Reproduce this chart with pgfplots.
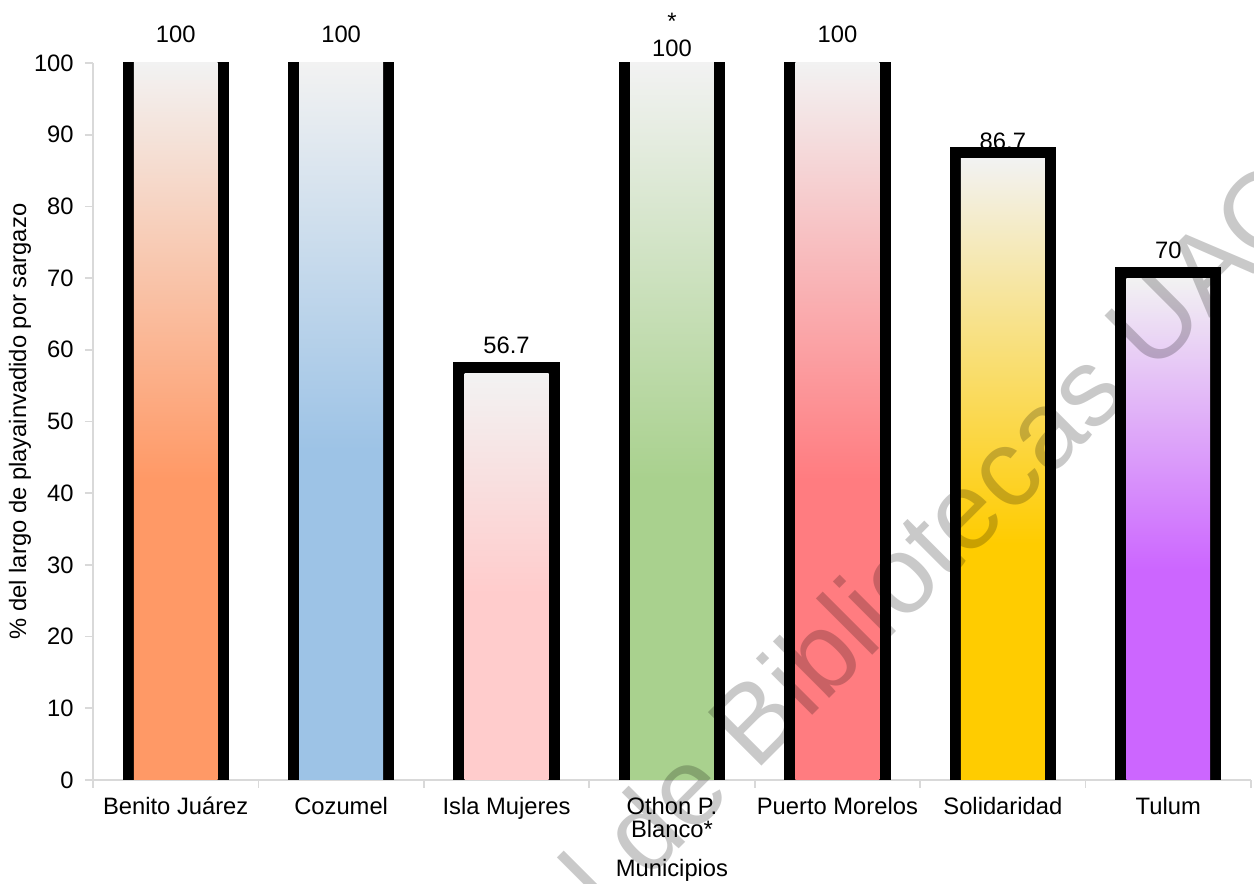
\documentclass[border=0pt]{standalone}
\usepackage{fontspec}
\setmainfont{Liberation Sans}
\usepackage{pgfplots}
\pgfplotsset{compat=1.18}

\definecolor{cBJ}{HTML}{FF9966}
\definecolor{cCZ}{HTML}{9DC3E6}
\definecolor{cIM}{HTML}{FFCCCC}
\definecolor{cOP}{HTML}{A9D18E}
\definecolor{cPM}{HTML}{FF7C80}
\definecolor{cSO}{HTML}{FFCC00}
\definecolor{cTU}{HTML}{CC66FF}
\definecolor{ctop}{HTML}{F2F2F2}
\definecolor{axgray}{HTML}{D9D9D9}

\pgfdeclareverticalshading{shBJ}{100bp}{color(0bp)=(cBJ); color(25bp)=(cBJ); color(46bp)=(cBJ); color(75bp)=(ctop); color(100bp)=(ctop)}
\pgfdeclareverticalshading{shCZ}{100bp}{color(0bp)=(cCZ); color(25bp)=(cCZ); color(48bp)=(cCZ); color(75bp)=(ctop); color(100bp)=(ctop)}
\pgfdeclareverticalshading{shIM}{100bp}{color(0bp)=(cIM); color(25bp)=(cIM); color(48bp)=(cIM); color(75bp)=(ctop); color(100bp)=(ctop)}
\pgfdeclareverticalshading{shOP}{100bp}{color(0bp)=(cOP); color(25bp)=(cOP); color(46bp)=(cOP); color(75bp)=(ctop); color(100bp)=(ctop)}
\pgfdeclareverticalshading{shPM}{100bp}{color(0bp)=(cPM); color(25bp)=(cPM); color(46bp)=(cPM); color(75bp)=(ctop); color(100bp)=(ctop)}
\pgfdeclareverticalshading{shSO}{100bp}{color(0bp)=(cSO); color(25bp)=(cSO); color(44bp)=(cSO); color(75bp)=(ctop); color(100bp)=(ctop)}
\pgfdeclareverticalshading{shTU}{100bp}{color(0bp)=(cTU); color(25bp)=(cTU); color(46bp)=(cTU); color(75bp)=(ctop); color(100bp)=(ctop)}

\pgfplotsset{
  mybar/.style={ybar, bar width=0.507, bar shift=0pt, draw=none, shade, shading=#1,
    preaction={draw=black, line width=9pt}},
  mylab/.style={draw=none, mark=none, nodes near coords,
    every node near coord/.append style={anchor=south, inner sep=0pt, yshift=#1, text=black,
      font=\fontsize{9.5}{10.8}\selectfont, align=center}},
}

\begin{document}
\begin{tikzpicture}
\begin{axis}[
  scale only axis, width=463.2pt, height=286.8pt,
  xmin=-0.5, xmax=6.5, ymin=0, ymax=100,
  axis x line*=bottom, axis y line*=left,
  axis line style={draw=axgray, line width=0.7pt},
  tick align=outside, major tick length=3.2pt,
  tick style={draw=axgray, line width=0.7pt},
  xtick={-0.5,0.5,1.5,2.5,3.5,4.5,5.5,6.5}, xticklabels={},
  extra x ticks={0,1,2,3,4,5,6},
  extra x tick labels={{Benito Juárez},{Cozumel},{Isla Mujeres},{Othon P.\\Blanco*},{Puerto Morelos},{Solidaridad},{Tulum}},
  extra x tick style={major tick length=0pt, xticklabel style={yshift=-3.2pt}},
  xticklabel style={align=center},
  ytick={0,10,...,100},
  yticklabel style={xshift=-1pt},
  tick label style={font=\fontsize{9.5}{9.2}\selectfont, text=black},
  /pgf/number format/assume math mode=true,
  xlabel={Municipios},
  ylabel={\% del largo de playainvadido por sargazo},
  every axis x label/.style={at={(axis description cs:0.5,0)}, anchor=center, yshift=-36pt, font=\fontsize{9.5}{11}\selectfont},
  every axis y label/.style={at={(axis description cs:-0.063,0.5)}, anchor=center, rotate=90, font=\fontsize{9.5}{11}\selectfont},
  clip mode=individual,
]
\addplot[mybar=shBJ] coordinates {(0,100)};
\addplot[mybar=shCZ] coordinates {(1,100)};
\addplot[mybar=shIM] coordinates {(2,56.7)};
\addplot[mybar=shOP] coordinates {(3,100)};
\addplot[mybar=shPM] coordinates {(4,100)};
\addplot[mybar=shSO] coordinates {(5,86.7)};
\addplot[mybar=shTU] coordinates {(6,70)};
% value labels
\addplot[mylab=7.8pt] coordinates {(0,100) (1,100) (2,56.7) (4,100)};
\addplot[mylab=3.4pt] coordinates {(5,86.7)};
\addplot[mylab=7.4pt] coordinates {(6,70)};
\addplot[draw=none, mark=none, nodes near coords={*\\100},
  every node near coord/.append style={anchor=south, inner sep=0pt, yshift=2.4pt, text=black,
    font=\fontsize{9.5}{10.8}\selectfont, align=center}] coordinates {(3,100)};
\end{axis}
% watermark
\node[rotate=45, anchor=base west, inner sep=0pt, text=black, text opacity=0.21,
  font=\fontsize{44}{44}\selectfont] at (264.8pt,2.8pt) {\llap{Dirección General de }Bibliotecas UAQ};
\pgfresetboundingbox
\useasboundingbox (-37.2pt,-41.6pt) rectangle (464.4pt,312pt);
\end{tikzpicture}
\end{document}
